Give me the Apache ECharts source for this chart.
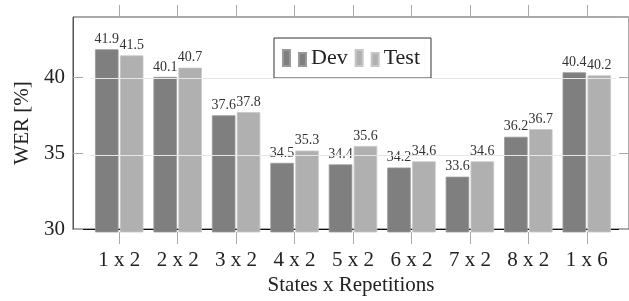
<!DOCTYPE html>
<html>
<head>
<meta charset="utf-8">
<script src="https://cdn.jsdelivr.net/npm/echarts@6/dist/echarts.min.js"></script>
<style>
html, body { margin: 0; padding: 0; background: #fff; }
#main { width: 629px; height: 301px; }
</style>
</head>
<body>
<div id="main"></div>
<script>
var categories = ['1 x 2', '2 x 2', '3 x 2', '4 x 2', '5 x 2', '6 x 2', '7 x 2', '8 x 2', '1 x 6'];
var devValues = [41.9, 40.1, 37.6, 34.5, 34.4, 34.2, 33.6, 36.2, 40.4];
var testValues = [41.5, 40.7, 37.8, 35.3, 35.6, 34.6, 34.6, 36.7, 40.2];
var gridValues = [35, 40];

var font = 'Liberation Serif';
var chart = echarts.init(document.getElementById('main'));

function valueLabel() {
    return {
        show: true,
        position: 'top',
        distance: 3,
        fontFamily: font,
        fontSize: 14,
        color: '#333',
        formatter: function (p) { return p.value.toFixed(1); }
    };
}

chart.setOption({
    animation: false,
    legend: {
        left: 274,
        top: 38,
        orient: 'horizontal',
        padding: [9, 11, 9, 8],
        itemGap: 7,
        itemWidth: 23,
        itemHeight: 16,
        borderColor: '#333',
        borderWidth: 1,
        backgroundColor: '#fff',
        textStyle: { fontFamily: font, fontSize: 22, color: '#222', lineHeight: 22 },
        data: [
            { name: 'Dev', icon: 'path://M0,0H7V16H0Z M16,3H23V16H16Z' },
            { name: 'Test', icon: 'path://M0,0H7V16H0Z M16,3H23V16H16Z' }
        ]
    },
    grid: [
        // frame
        { left: 73, top: 17, width: 560, height: 215, show: true, borderColor: '#555', borderWidth: 1 },
        // bars
        { left: 90, top: 17, width: 526, height: 215 }
    ],
    xAxis: [
        {
            gridIndex: 0, type: 'value', min: 0, max: 1,
            axisLine: { show: true, lineStyle: { color: '#111' } },
            axisTick: { show: false }, axisLabel: { show: false }, splitLine: { show: false },
            name: 'States x Repetitions', nameLocation: 'middle', nameGap: 46,
            nameTextStyle: { fontFamily: font, fontSize: 21, color: '#222' }
        },
        {
            gridIndex: 1, type: 'category', data: categories, position: 'bottom',
            axisLine: { show: false },
            axisTick: { show: true, alignWithLabel: true, length: 12, lineStyle: { color: '#aaa' } },
            axisLabel: { fontFamily: font, fontSize: 21, color: '#222', margin: 18 }
        },
        {
            gridIndex: 1, type: 'category', data: categories, position: 'top',
            axisLine: { show: false },
            axisTick: { show: true, alignWithLabel: true, length: 12, lineStyle: { color: '#aaa' } },
            axisLabel: { show: false }
        }
    ],
    yAxis: [
        {
            gridIndex: 0, type: 'value', min: 30, max: 44, interval: 5, position: 'left',
            axisLine: { show: true, lineStyle: { color: '#555' } },
            axisTick: { show: true, inside: true, length: 10, lineStyle: { color: '#aaa' } },
            axisLabel: { fontFamily: font, fontSize: 21, color: '#222', margin: 8, showMaxLabel: false },
            splitLine: { show: false },
            name: 'WER [%]', nameLocation: 'middle', nameGap: 38,
            nameTextStyle: { fontFamily: font, fontSize: 21, color: '#222' }
        },
        {
            gridIndex: 1, type: 'value', min: 30, max: 44, show: false, splitLine: { show: false }
        },
        {
            gridIndex: 0, type: 'value', min: 30, max: 44, interval: 5, position: 'right',
            axisLine: { show: false },
            axisTick: { show: true, inside: true, length: 10, lineStyle: { color: '#aaa' } },
            axisLabel: { show: false, showMaxLabel: false },
            splitLine: { show: false }
        }
    ],
    series: [
        {
            name: 'Dev', type: 'bar', xAxisIndex: 1, yAxisIndex: 1, z: 3,
            barWidth: 23.5, barGap: '6%',
            itemStyle: { color: '#7f7f7f', borderColor: '#999', borderWidth: 0.8 },
            label: valueLabel(),
            data: devValues,
            markLine: {
                silent: true,
                symbol: 'none',
                label: { show: false },
                lineStyle: { color: '#e6e6e6', type: 'solid', width: 1 },
                data: gridValues.map(function (v) { return { yAxis: v }; })
            }
        },
        {
            name: 'Test', type: 'bar', xAxisIndex: 1, yAxisIndex: 1, z: 2,
            barWidth: 23.5, barGap: '6%',
            itemStyle: { color: '#b0b0b0', borderColor: '#c6c6c6', borderWidth: 0.8 },
            label: valueLabel(),
            data: testValues
        }
    ]
});
</script>
</body>
</html>
